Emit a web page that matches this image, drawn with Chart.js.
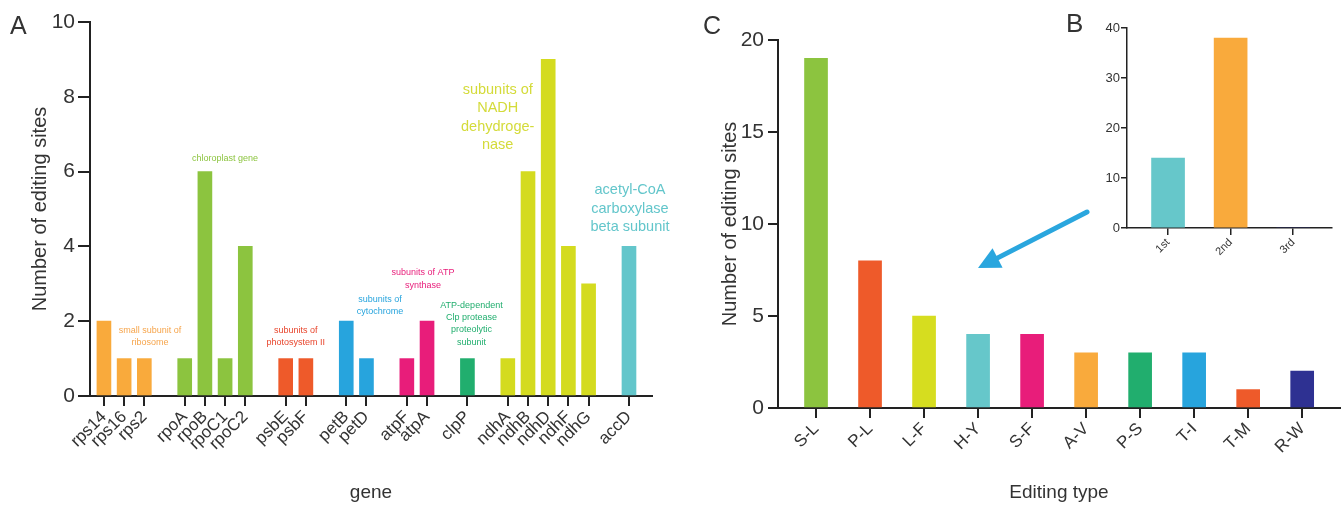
<!DOCTYPE html>
<html>
<head>
<meta charset="utf-8">
<script src="https://cdn.jsdelivr.net/npm/chart.js@4/dist/chart.umd.min.js"></script>
<style>
  body { margin: 0; width: 1342px; height: 508px; background: #fff; position: relative; overflow: hidden;
         font-family: "Liberation Sans", Arial, sans-serif; }
  canvas { position: absolute; top: 0; }
  .tag { position: absolute; color: #333; line-height: 1; }
</style>
</head>
<body>
<canvas id="chartA" width="680" height="508" style="left:0"></canvas>
<canvas id="chartC" width="662" height="508" style="left:680px"></canvas>
<canvas id="chartB" width="282" height="275" style="left:1060px"></canvas>
<div class="tag" style="left:10px;top:13px;font-size:25px">A</div>
<div class="tag" style="left:703px;top:13px;font-size:25px">C</div>
<div class="tag" style="left:1066px;top:10px;font-size:26px">B</div>

<script>
// ---- panel A: editing sites per gene ('' = gap between gene groups)
const genes = ['rps14', 'rps16', 'rps2', '', 'rpoA', 'rpoB', 'rpoC1', 'rpoC2', '', 'psbE', 'psbF', '',
  'petB', 'petD', '', 'atpF', 'atpA', '', 'clpP', '', 'ndhA', 'ndhB', 'ndhD', 'ndhF', 'ndhG', '', 'accD'];
const geneSites = [2, 1, 1, null, 1, 6, 1, 4, null, 1, 1, null,
  2, 1, null, 1, 2, null, 1, null, 1, 6, 9, 4, 3, null, 4];
const geneGroups = ['rps', 'rps', 'rps', '', 'rpo', 'rpo', 'rpo', 'rpo', '', 'psb', 'psb', '',
  'pet', 'pet', '', 'atp', 'atp', '', 'clp', '', 'ndh', 'ndh', 'ndh', 'ndh', 'ndh', '', 'acc'];
const geneTicksY = [0, 2, 4, 6, 8, 10];

// ---- panel C: editing types
const editTypes = ['S-L', 'P-L', 'L-F', 'H-Y', 'S-F', 'A-V', 'P-S', 'T-I', 'T-M', 'R-W'];
const editSites = [19, 8, 5, 4, 4, 3, 3, 3, 1, 2];
const editTicksY = [0, 5, 10, 15, 20];

// ---- panel B: codon position
const codonPos = ['1st', '2nd', '3rd'];
const codonSites = [14, 38, 0];
const codonTicksY = [0, 10, 20, 30, 40];

const groupColor = {
  rps: '#F9AA3C', rpo: '#8CC43F', psb: '#EE5A2A', pet: '#27A4DD',
  atp: '#E81D7A', clp: '#21AE6E', ndh: '#D4DB1F', acc: '#63C6CB'
};
const editColors = ['#8CC43F', '#EE5A2A', '#D6DD1F', '#66C7CA', '#E81D7A', '#F9AA3C', '#21AE6E', '#27A4DD', '#EE5A2A', '#2E3192'];
const codonColors = ['#66C7CA', '#F9AA3C', '#2E3192'];

// text notes in panel A, placed on the gene slot / value scale
const notes = [
  { lines: ['small subunit of', 'ribosome'], slot: 2.28, v: 1.76, color: '#F6A54C', size: 9, gap: 12 },
  { lines: ['chloroplast gene'], slot: 6.0, v: 6.36, color: '#8CC43F', size: 9, gap: 12 },
  { lines: ['subunits of', 'photosystem II'], slot: 9.5, v: 1.74, color: '#E8452C', size: 9, gap: 12 },
  { lines: ['subunits of', 'cytochrome'], slot: 13.67, v: 2.57, color: '#27A4DD', size: 9, gap: 12 },
  { lines: ['subunits of ATP', 'synthase'], slot: 15.8, v: 3.3, color: '#E81D7A', size: 9, gap: 13 },
  { lines: ['ATP-dependent', 'Clp protease', 'proteolytic', 'subunit'], slot: 18.2, v: 2.43, color: '#21AE6E', size: 9, gap: 12.3 },
  { lines: ['subunits of', 'NADH', 'dehydroge-', 'nase'], slot: 19.5, v: 8.18, color: '#D4DB3A', size: 14.5, gap: 18.3 },
  { lines: ['acetyl-CoA', 'carboxylase', 'beta subunit'], slot: 26.05, v: 5.5, color: '#63C6CB', size: 14.5, gap: 18.5 }
];

const FONT = '"Liberation Sans", Arial, sans-serif';
const AXIS = '#222';
const TEXT = '#333';

function slotChart(id, labels, values, colors, o) {
  const points = [];
  const barColors = [];
  labels.forEach((l, i) => {
    if (l !== '') { points.push({ x: i, y: values[i] }); barColors.push(colors[i]); }
  });
  return new Chart(document.getElementById(id), {
    type: 'bar',
    data: { datasets: [{ data: points, backgroundColor: barColors, borderWidth: 0, barThickness: o.barW }] },
    options: {
      responsive: false,
      animation: false,
      layout: { padding: o.pad },
      plugins: { legend: { display: false }, tooltip: { enabled: false } },
      scales: {
        x: {
          type: 'linear', min: o.xMin, max: o.xMax, offset: false,
          afterBuildTicks: s => { s.ticks = labels.map((l, i) => (l ? { value: i } : null)).filter(Boolean); },
          afterFit: s => { s.height = o.xH; },
          grid: { offset: false, drawOnChartArea: false, color: AXIS, lineWidth: o.lw, tickLength: o.xTick },
          border: { color: AXIS, width: o.lw },
          ticks: {
            autoSkip: false, minRotation: 45, maxRotation: 45, padding: 1,
            color: TEXT, font: { family: FONT, size: o.xFont },
            callback: v => labels[v]
          },
          title: { display: !!o.xTitle, text: o.xTitle, color: TEXT, font: { family: FONT, size: 19 }, padding: 4 }
        },
        y: {
          min: 0, max: o.yTicks[o.yTicks.length - 1],
          afterBuildTicks: s => { s.ticks = o.yTicks.map(v => ({ value: v })); },
          afterFit: s => { s.width = o.yW; },
          grid: { drawOnChartArea: false, color: AXIS, lineWidth: o.lw, tickLength: o.yTick },
          border: { color: AXIS, width: o.lw },
          ticks: { color: TEXT, padding: o.yPad, font: { family: FONT, size: o.yFont } },
          title: { display: !!o.yTitle, text: o.yTitle, color: TEXT, font: { family: FONT, size: 20 }, padding: 4 }
        }
      }
    },
    plugins: o.plugins || []
  });
}

const notesPlugin = {
  id: 'notes',
  afterDraw(chart) {
    const ctx = chart.ctx;
    const xs = chart.scales.x, ys = chart.scales.y;
    ctx.save();
    ctx.textAlign = 'center';
    ctx.textBaseline = 'middle';
    notes.forEach(n => {
      ctx.font = n.size + 'px ' + FONT;
      ctx.fillStyle = n.color;
      const x = xs.getPixelForValue(n.slot);
      const y0 = ys.getPixelForValue(n.v);
      n.lines.forEach((t, k) => ctx.fillText(t, x, y0 + k * n.gap));
    });
    ctx.restore();
  }
};

const arrowPlugin = {
  id: 'arrow',
  afterDraw(chart) {
    const ctx = chart.ctx;
    const x1 = 407, y1 = 212, tx = 298, ty = 268;
    const dx = tx - x1, dy = ty - y1, len = Math.hypot(dx, dy);
    const ux = dx / len, uy = dy / len;
    const bx = tx - ux * 22, by = ty - uy * 22;
    ctx.save();
    ctx.strokeStyle = '#2AA6DE';
    ctx.fillStyle = '#2AA6DE';
    ctx.lineWidth = 5;
    ctx.lineCap = 'round';
    ctx.beginPath();
    ctx.moveTo(x1, y1);
    ctx.lineTo(bx + ux * 2, by + uy * 2);
    ctx.stroke();
    ctx.beginPath();
    ctx.moveTo(tx, ty);
    ctx.lineTo(bx - uy * 11, by + ux * 11);
    ctx.lineTo(bx + uy * 11, by - ux * 11);
    ctx.closePath();
    ctx.fill();
    ctx.restore();
  }
};

slotChart('chartA', genes, geneSites, geneGroups.map(g => groupColor[g] || '#fff'), {
  pad: { left: 24, top: 22, right: 28, bottom: 0 },
  xMin: -0.69, xMax: 27.14, xH: 112, yW: 66, barW: 14, lw: 2,
  xTick: 10, yTick: 12, yPad: 3, xFont: 17, yFont: 21,
  yTicks: geneTicksY, xTitle: 'gene', yTitle: 'Number of editing sites',
  plugins: [notesPlugin]
});

slotChart('chartC', editTypes, editSites, editColors, {
  pad: { left: 34, top: 40, right: 2, bottom: 0 },
  xMin: -0.704, xMax: 9.7, xH: 100, yW: 64, barW: 23, lw: 2,
  xTick: 10, yTick: 10, yPad: 4, xFont: 17, yFont: 21,
  yTicks: editTicksY, xTitle: 'Editing type', yTitle: 'Number of editing sites',
  plugins: [arrowPlugin]
});

slotChart('chartB', codonPos, codonSites, codonColors, {
  pad: { left: 30, top: 28, right: 10, bottom: 0 },
  xMin: -0.656, xMax: 2.62, xH: 47, yW: 37, barW: 33, lw: 1.5,
  xTick: 7, yTick: 6, yPad: 1, xFont: 11, yFont: 13,
  yTicks: codonTicksY
});
</script>
</body>
</html>
